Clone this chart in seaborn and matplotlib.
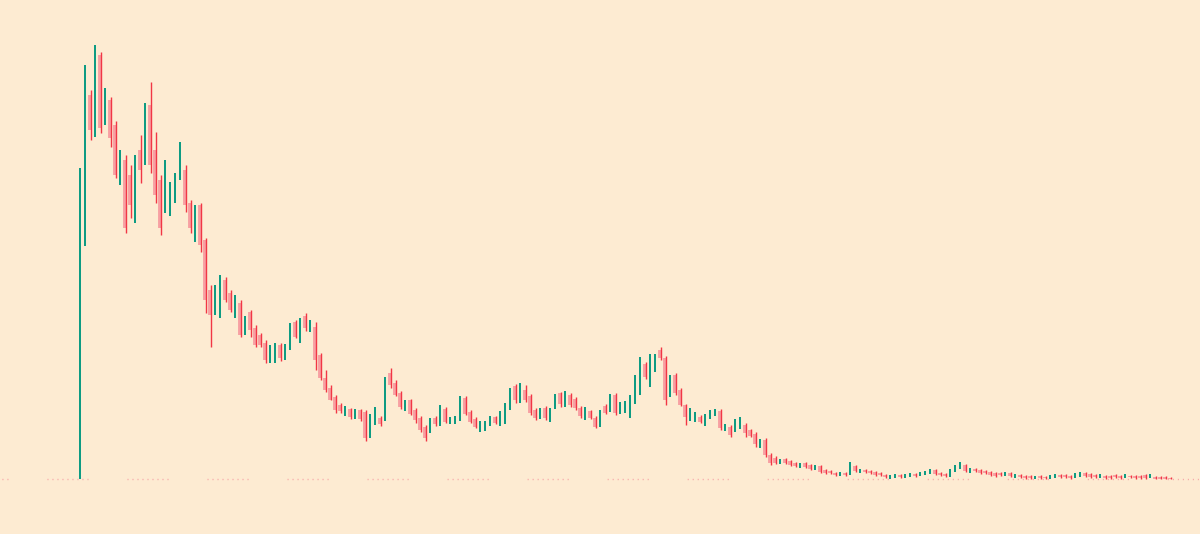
import numpy as np
import pandas as pd
import matplotlib
matplotlib.use("Agg")
import matplotlib.pyplot as plt
import seaborn as sns

# OHLC values (price units, baseline = 0)
opens = [0, 239, 384, 367, 424, 359, 379, 354, 299, 319,
         304, 261, 329, 319, 374, 329, 299, 279, 267, 279,
         301, 309, 276, 244, 274, 239, 189, 167, 164, 199,
         186, 163, 176, 147, 167, 151, 144, 136, 119, 119,
         134, 124, 131, 157, 139, 163, 149, 152, 124, 101,
         91, 82, 74, 65, 70, 62, 69, 67, 43, 56,
         61, 59, 106, 96, 86, 71, 79, 69, 61, 52,
         47, 61, 55, 70, 56, 56, 60, 81, 67, 60,
         49, 50, 55, 62, 56, 58, 72, 93, 79, 89,
         83, 69, 62, 71, 59, 71, 86, 77, 84, 80,
         71, 61, 68, 61, 54, 73, 69, 84, 67, 68,
         64, 77, 87, 115, 101, 111, 129, 121, 91, 104,
         89, 74, 59, 58, 62, 55, 61, 65, 68, 49,
         52, 48, 52, 54, 49, 45, 33, 39, 24, 21,
         16, 20, 18, 16, 12, 16, 14, 10, 13, 9,
         8, 6, 4, 6, 5, 13, 7, 9, 8, 7,
         6, 4, 1, 2, 4, 2, 3, 5, 4, 5,
         6, 9, 6, 5, 3, 8, 11, 14, 7, 10,
         9, 8, 7, 6, 6, 4, 6, 2, 4, 3,
         3, 1, 3, 2, 1, 2, 4, 4, 3, 2,
         3, 6, 5, 4, 2, 3, 3, 4, 3, 2,
         3, 3, 3, 4, 2, 2, 2, 2, 1]
highs = [311, 414, 389, 434, 427, 391, 382, 358, 329, 324,
         314, 324, 344, 376, 397, 347, 304, 319, 297, 306,
         337, 314, 279, 274, 276, 241, 194, 194, 204, 202,
         189, 184, 179, 163, 169, 154, 146, 139, 134, 136,
         136, 135, 156, 159, 161, 166, 159, 157, 126, 109,
         94, 84, 76, 73, 71, 70, 70, 69, 65, 72,
         63, 102, 111, 99, 88, 79, 80, 71, 63, 54,
         61, 63, 74, 72, 62, 63, 83, 83, 69, 62,
         58, 58, 63, 63, 68, 76, 91, 95, 96, 94,
         85, 71, 71, 73, 71, 85, 87, 88, 86, 82,
         73, 72, 69, 63, 69, 75, 85, 86, 77, 78,
         84, 104, 122, 117, 125, 125, 132, 123, 104, 106,
         91, 75, 71, 67, 64, 65, 69, 70, 70, 55,
         54, 60, 62, 56, 50, 47, 40, 41, 26, 23,
         20, 21, 19, 17, 16, 17, 15, 14, 14, 10,
         9, 7, 7, 7, 17, 14, 10, 10, 9, 8,
         7, 5, 4, 5, 5, 5, 6, 6, 7, 8,
         10, 10, 7, 6, 10, 14, 17, 15, 11, 11,
         10, 9, 8, 7, 7, 7, 7, 5, 5, 4,
         4, 3, 4, 3, 4, 5, 5, 5, 4, 6,
         7, 7, 6, 5, 5, 4, 4, 5, 4, 5,
         4, 4, 4, 5, 5, 3, 3, 3, 2]
lows = [0, 233, 339, 342, 346, 354, 332, 301, 294, 246,
        261, 256, 296, 314, 306, 276, 244, 266, 263, 276,
        299, 267, 246, 237, 227, 166, 132, 164, 161, 177,
        167, 161, 142, 144, 142, 132, 132, 116, 116, 116,
        118, 119, 129, 141, 136, 148, 147, 109, 99, 87,
        79, 66, 66, 63, 60, 60, 58, 38, 41, 54,
        53, 58, 91, 83, 70, 68, 64, 56, 47, 38,
        46, 53, 53, 56, 55, 55, 58, 64, 56, 51,
        47, 48, 53, 55, 53, 55, 69, 76, 76, 77,
        64, 59, 60, 59, 57, 70, 72, 72, 72, 69,
        61, 59, 60, 51, 52, 65, 67, 64, 65, 66,
        61, 75, 84, 100, 92, 107, 119, 74, 82, 84,
        73, 54, 58, 57, 56, 53, 60, 63, 49, 48,
        42, 47, 50, 42, 42, 32, 31, 22, 14, 15,
        15, 15, 13, 12, 11, 11, 9, 9, 6, 5,
        5, 3, 3, 3, 4, 7, 6, 6, 5, 3,
        3, 1, 0, 1, 1, 1, 2, 2, 3, 4,
        5, 4, 3, 2, 2, 7, 10, 7, 6, 7,
        5, 5, 3, 2, 3, 3, 2, 1, 1, 0,
        0, 0, 0, 0, 0, 1, 1, 1, 0, 1,
        2, 2, 1, 1, 1, 0, 0, 1, 0, 1,
        1, 0, 0, 0, 1, 0, 0, 0, 0]
closes = [304, 404, 349, 429, 351, 387, 341, 304, 321, 251,
          274, 321, 309, 369, 314, 284, 251, 314, 294, 301,
          334, 274, 251, 271, 234, 179, 164, 184, 199, 179,
          169, 181, 144, 161, 149, 134, 134, 119, 132, 134,
          121, 133, 151, 142, 159, 151, 157, 119, 101, 89,
          79, 69, 68, 71, 62, 68, 60, 41, 63, 69,
          55, 99, 94, 84, 72, 77, 65, 59, 49, 41,
          59, 55, 72, 57, 60, 61, 80, 65, 57, 52,
          56, 56, 61, 56, 66, 74, 89, 79, 94, 79,
          66, 61, 69, 61, 69, 83, 75, 84, 74, 71,
          63, 70, 61, 52, 67, 66, 83, 66, 75, 76,
          82, 101, 119, 102, 119, 123, 121, 79, 102, 86,
          74, 62, 67, 65, 57, 63, 67, 68, 51, 53,
          44, 58, 60, 46, 43, 35, 38, 24, 16, 16,
          19, 16, 14, 13, 15, 12, 10, 13, 7, 6,
          6, 4, 6, 4, 15, 8, 9, 7, 6, 4,
          4, 2, 3, 4, 2, 4, 5, 3, 6, 7,
          9, 5, 4, 3, 9, 13, 16, 8, 10, 8,
          6, 6, 4, 3, 4, 6, 3, 4, 2, 1,
          1, 2, 1, 1, 3, 4, 2, 2, 1, 5,
          6, 3, 2, 2, 4, 1, 1, 2, 1, 4,
          2, 1, 1, 1, 4, 0, 0, 0, 0]

BG = "#fdebd2"
UP = "#089981"
DOWN = "#f23645"
DOWN_BODY = "#f7a0a3"

df = pd.DataFrame({"open": opens, "high": highs, "low": lows, "close": closes})
df["idx"] = np.arange(len(df))
up = df[df["close"] >= df["open"]]
down = df[df["close"] < df["open"]]

sns.set_theme(style="white", rc={"figure.facecolor": BG, "axes.facecolor": BG})

fig = plt.figure(figsize=(12, 5.34), dpi=100)
ax = fig.add_axes([0, 0, 1, 1])

# dotted baseline at zero
ax.axhline(0, color=DOWN_BODY, lw=1,
           linestyle=(23.8, (0.72, 2.88) * 8 + (0.72, 28.1)), zorder=1)

# down candles: light body + thin red wick
ax.vlines(down["idx"], down["close"], down["open"], color=DOWN_BODY, lw=2.8, zorder=2)
ax.vlines(down["idx"] + 0.25, down["low"], down["high"], color=DOWN, lw=1.0, zorder=3)
# up candles: thin teal line
ax.vlines(up["idx"], up["low"], up["high"], color=UP, lw=1.4, zorder=3)

ax.set_xlim(-16, 224)
ax.set_ylim(-55, 479)
ax.axis("off")

fig.savefig("out.png", dpi=100, facecolor=BG)
